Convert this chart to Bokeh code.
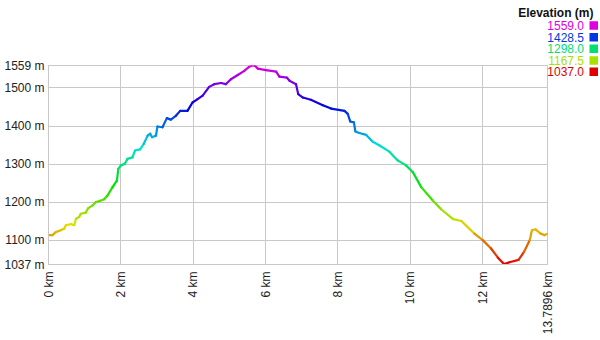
import colorsys
from bokeh.plotting import figure
from bokeh.layouts import column
from bokeh.models import Range1d, FixedTicker, ColumnDataSource, GridBox
from bokeh.transform import linear_cmap
from bokeh.core.properties import value
from bokeh.embed import file_html
from bokeh.resources import INLINE

# ---- data ----
dist_km = [0, 0.11, 0.2, 0.34, 0.43, 0.48, 0.62, 0.71, 0.76, 0.85, 0.89, 1.03, 1.10, 1.22,
           1.31, 1.43, 1.54, 1.63, 1.77, 1.89, 1.93, 2.00, 2.11, 2.18, 2.32, 2.39, 2.53,
           2.63, 2.74, 2.81, 2.86, 2.97, 3.01, 3.15, 3.27, 3.38, 3.52, 3.64, 3.84, 3.98,
           4.12, 4.26, 4.44, 4.58, 4.77, 4.90, 5.04, 5.23, 5.41, 5.55, 5.62, 5.71, 5.78,
           6.01, 6.29, 6.38, 6.59, 6.66, 6.84, 6.90, 7.03, 7.25, 7.58, 7.81, 8.18, 8.27,
           8.34, 8.44, 8.48, 8.59, 8.78, 8.96, 9.15, 9.42, 9.65, 9.88, 10.07, 10.30,
           10.62, 10.85, 11.18, 11.41, 11.77, 12.00, 12.23, 12.42, 12.59, 12.74, 12.99,
           13.14, 13.30, 13.36, 13.46, 13.60, 13.71, 13.7896]
elev_m = [1114, 1114, 1122, 1127, 1131, 1140, 1143, 1140, 1157, 1162, 1170, 1173, 1185, 1192,
          1201, 1204, 1208, 1218, 1240, 1257, 1288, 1297, 1301, 1314, 1318, 1336, 1339,
          1353, 1375, 1380, 1371, 1375, 1399, 1397, 1421, 1417, 1427, 1440, 1440, 1462,
          1471, 1480, 1503, 1510, 1513, 1510, 1523, 1534, 1545, 1556, 1559, 1558, 1551,
          1547, 1543, 1530, 1527, 1519, 1510, 1484, 1475, 1469, 1455, 1446, 1440, 1432,
          1412, 1410, 1386, 1382, 1377, 1359, 1349, 1333, 1310, 1297, 1279, 1240,
          1205, 1182, 1156, 1151, 1118, 1101, 1079, 1055, 1038, 1043, 1049,
          1070, 1101, 1127, 1129, 1118, 1114, 1118]

x_ticks = [0, 2, 4, 6, 8, 10, 12, 13.7896]
x_tick_labels = ["0 km", "2 km", "4 km", "6 km", "8 km", "10 km", "12 km", "13.7896 km"]
y_ticks = [1037, 1100, 1200, 1300, 1400, 1500, 1559]
y_tick_labels = ["1037 m", "1100 m", "1200 m", "1300 m", "1400 m", "1500 m", "1559 m"]

legend_title = "Elevation (m)"
legend_values = [1559.0, 1428.5, 1298.0, 1167.5, 1037.0]

E_MIN, E_MAX = 1037, 1559
W, H = 600, 340
FONT = "Liberation Sans"

# hue palette: red (low) -> magenta (high)
def hue_color(f):
    r, g, b = colorsys.hsv_to_rgb(f * 300.0 / 360.0, 1.0, 0.88)
    return "#%02x%02x%02x" % (int(r * 255), int(g * 255), int(b * 255))

palette = [hue_color(i / 255) for i in range(256)]

# ---- main figure ----
p = figure(width=W, height=H, output_backend="svg", toolbar_location=None,
           x_range=Range1d(0, 13.7896), y_range=Range1d(E_MIN, E_MAX),
           min_border_left=48, min_border_right=53, min_border_top=65, min_border_bottom=76)
p.background_fill_color = "white"
p.border_fill_color = "white"
p.outline_line_color = "#c8c8c8"
p.outline_line_width = 1

grid_col = "#c8c8c8"
p.xgrid.grid_line_color = grid_col
p.ygrid.grid_line_color = grid_col
p.xgrid.ticker = FixedTicker(ticks=x_ticks)
p.ygrid.ticker = FixedTicker(ticks=y_ticks)

p.xaxis.ticker = FixedTicker(ticks=x_ticks)
p.xaxis.major_label_overrides = {t: l for t, l in zip(x_ticks, x_tick_labels)}
p.xaxis.major_label_orientation = 3.14159265 / 2
p.yaxis.ticker = FixedTicker(ticks=y_ticks)
p.yaxis.major_label_overrides = {t: l for t, l in zip(y_ticks, y_tick_labels)}

for ax in (p.xaxis[0], p.yaxis[0]):
    ax.axis_line_color = grid_col
    ax.major_tick_line_color = None
    ax.minor_tick_line_color = None
    ax.major_tick_out = 0
    ax.major_tick_in = 0
    ax.major_label_text_font = FONT
    ax.major_label_text_font_size = "12px"
    ax.major_label_text_color = "#222222"
p.xaxis.major_label_standoff = 7
p.yaxis.major_label_standoff = 4

# coloured profile as segments
mid = [(elev_m[i] + elev_m[i + 1]) / 2 for i in range(len(elev_m) - 1)]
src = ColumnDataSource(dict(x0=dist_km[:-1], y0=elev_m[:-1], x1=dist_km[1:], y1=elev_m[1:], e=mid))
p.segment(x0="x0", y0="y0", x1="x1", y1="y1", source=src, line_width=2.2, line_cap="round",
          line_color=linear_cmap("e", palette, E_MIN, E_MAX))

# ---- transparent overlay figure for the legend (pixel coordinates, y down) ----
q = figure(width=W, height=H, output_backend="svg", toolbar_location=None,
           x_range=Range1d(0, W), y_range=Range1d(H, 0),
           x_axis_type=None, y_axis_type=None,
           min_border_left=0, min_border_right=0, min_border_top=0, min_border_bottom=0)
q.grid.visible = False
q.outline_line_color = None
q.background_fill_alpha = 0
q.border_fill_alpha = 0

leg_colors = [hue_color((v - E_MIN) / (E_MAX - E_MIN)) for v in legend_values]
row_y = [25, 36.7, 48.3, 60, 71.3]
q.text(x=[593], y=[12], text=[legend_title], text_align="right", text_baseline="middle",
       text_font=value(FONT), text_font_size="12px", text_font_style="bold", text_color="#111111")
leg_src = ColumnDataSource(dict(y=row_y, t=["%.1f" % v for v in legend_values], c=leg_colors,
                                xt=[583.5] * 5, xs=[593.25] * 5))
q.text(x="xt", y="y", text="t", text_color="c", source=leg_src, text_align="right",
       text_baseline="middle", text_font=value(FONT), text_font_size="12px")
q.scatter(x="xs", y="y", marker="square", size=8.5, fill_color="c", line_color=None, source=leg_src)

if "frame_align" in q.properties():
    q.frame_align = False
    p.frame_align = False
    overlay = q
else:
    overlay = column(q, width=W, height=H)

layout = GridBox(children=[(p, 0, 0), (overlay, 0, 0)], width=W, height=H)
open("out.html", "w").write(file_html(layout, INLINE))
